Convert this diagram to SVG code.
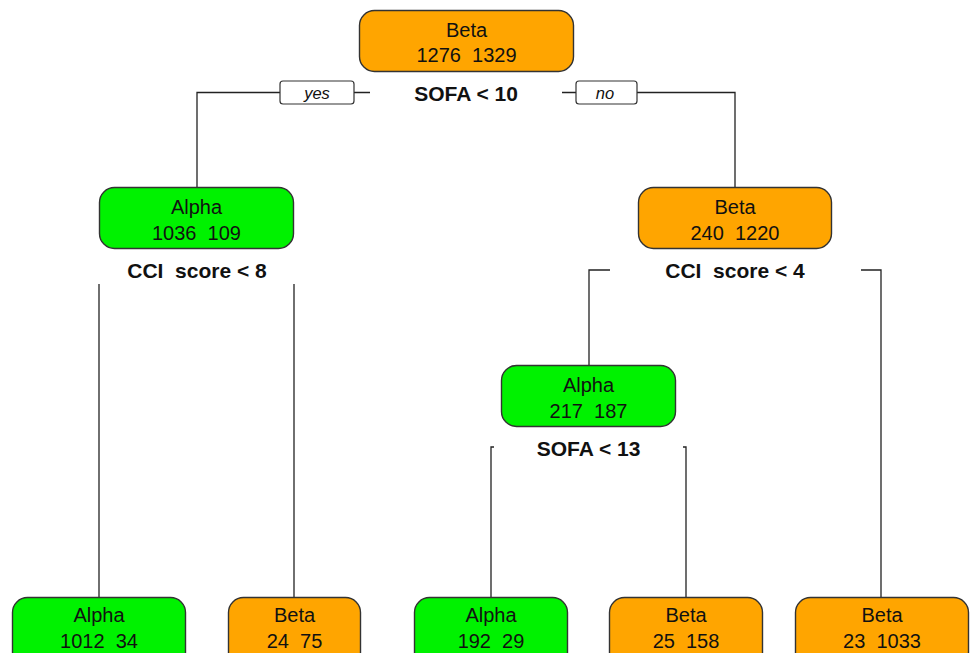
<svg xmlns="http://www.w3.org/2000/svg" width="970" height="653" viewBox="0 0 970 653">
<style>
.alpha{fill:#00F200;stroke:#333;stroke-width:1.4}
.beta{fill:#FFA500;stroke:#333;stroke-width:1.4}
.lbl{font-family:"Liberation Sans",Arial,sans-serif;font-size:20px;fill:#111;text-anchor:middle}
.split{font-family:"Liberation Sans",Arial,sans-serif;font-size:21px;font-weight:bold;fill:#111;text-anchor:middle}
.yn{font-family:"Liberation Sans",Arial,sans-serif;font-size:16.5px;font-style:italic;fill:#111;text-anchor:middle}
.ynbox{fill:#fff;stroke:#333;stroke-width:1.2}
.conn{fill:none;stroke:#222;stroke-width:1.3}
</style>
<rect width="970" height="653" fill="#fff"/>
<g id="connectors">
<path class="conn" d="M370,92.5 H197 V187"/>
<path class="conn" d="M562,92.5 H735 V187"/>
<path class="conn" d="M99,284 V597"/>
<path class="conn" d="M294,284 V597"/>
<path class="conn" d="M610,270 H589 V366"/>
<path class="conn" d="M861,270 H881 V597"/>
<path class="conn" d="M494,447 H491 V597"/>
<path class="conn" d="M683,447 H686 V597"/>
</g>
<g id="yes">
<rect class="ynbox" x="280" y="81" width="74" height="23" rx="3"/>
<text class="yn" x="317" y="98.5">yes</text>
</g>
<g id="no">
<rect class="ynbox" x="576" y="81" width="61" height="23" rx="3"/>
<text class="yn" x="605" y="98.5">no</text>
</g>
<g id="n1">
<rect class="beta" x="359.5" y="10.5" width="214" height="61" rx="15"/>
<text class="lbl" x="466.5" y="37">Beta</text>
<text class="lbl" x="466.5" y="62" xml:space="preserve">1276  1329</text>
<text class="split" x="466" y="100.5">SOFA &lt; 10</text>
</g>
<g id="n2">
<rect class="alpha" x="99.5" y="187.5" width="194" height="61" rx="15"/>
<text class="lbl" x="196.5" y="214">Alpha</text>
<text class="lbl" x="196.5" y="240" xml:space="preserve">1036  109</text>
<text class="split" x="197" y="277.5" xml:space="preserve">CCI  score &lt; 8</text>
</g>
<g id="n3">
<rect class="beta" x="638.5" y="187.5" width="193" height="61" rx="15"/>
<text class="lbl" x="735" y="214">Beta</text>
<text class="lbl" x="735" y="240" xml:space="preserve">240  1220</text>
<text class="split" x="735" y="277.5" xml:space="preserve">CCI  score &lt; 4</text>
</g>
<g id="n6">
<rect class="alpha" x="501.5" y="365.5" width="174" height="61" rx="15"/>
<text class="lbl" x="588.5" y="392">Alpha</text>
<text class="lbl" x="588.5" y="418" xml:space="preserve">217  187</text>
<text class="split" x="588.5" y="455.5">SOFA &lt; 13</text>
</g>
<g id="n4">
<rect class="alpha" x="12.5" y="597.5" width="173" height="70" rx="15"/>
<text class="lbl" x="99" y="622">Alpha</text>
<text class="lbl" x="99" y="648" xml:space="preserve">1012  34</text>
</g>
<g id="n5">
<rect class="beta" x="228.5" y="597.5" width="132" height="70" rx="15"/>
<text class="lbl" x="294.5" y="622">Beta</text>
<text class="lbl" x="294.5" y="648" xml:space="preserve">24  75</text>
</g>
<g id="n12">
<rect class="alpha" x="414.5" y="597.5" width="153" height="70" rx="15"/>
<text class="lbl" x="491" y="622">Alpha</text>
<text class="lbl" x="491" y="648" xml:space="preserve">192  29</text>
</g>
<g id="n13">
<rect class="beta" x="609.5" y="597.5" width="153" height="70" rx="15"/>
<text class="lbl" x="686" y="622">Beta</text>
<text class="lbl" x="686" y="648" xml:space="preserve">25  158</text>
</g>
<g id="n7">
<rect class="beta" x="795.5" y="597.5" width="173" height="70" rx="15"/>
<text class="lbl" x="882" y="622">Beta</text>
<text class="lbl" x="882" y="648" xml:space="preserve">23  1033</text>
</g>
</svg>
